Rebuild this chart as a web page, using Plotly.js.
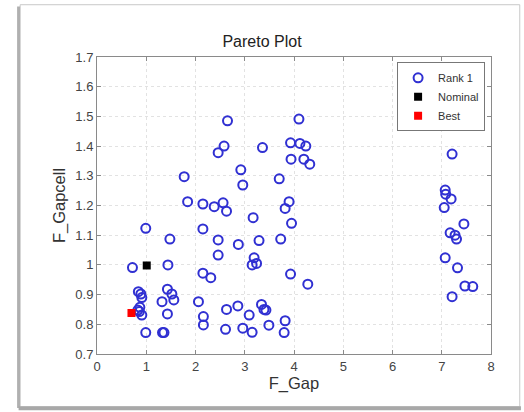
<!DOCTYPE html>
<html>
<head>
<meta charset="utf-8">
<script src="https://cdn.plot.ly/plotly-3.0.1.min.js"></script>
<style>html,body{margin:0;padding:0;background:#fff;}#chart{width:524px;height:412px;}</style>
</head>
<body>
<div id="chart"></div>
<script>
// Rank 1 solutions (F_Gap, F_Gapcell)
const rankGap = [
  2.65, 2.58, 2.46, 1.77, 1.84, 2.15, 2.38, 2.56, 2.63,
  0.99, 2.15, 1.48, 2.46, 2.46, 0.72, 1.44, 2.15, 2.31,
  0.84, 0.89, 0.91, 1.43, 1.52, 1.56, 1.32, 2.06, 2.63,
  0.87, 0.83, 0.86, 0.91, 1.43, 2.16, 2.16, 0.99, 1.33, 1.36, 2.61,
  4.10, 3.36, 3.93, 4.12, 4.24, 3.94, 4.20, 4.32, 2.92, 2.96, 3.70, 3.90, 3.82,
  3.17, 3.95, 2.87, 3.29, 3.73, 3.19, 3.15, 3.24, 3.93, 4.28,
  2.86, 3.09, 3.34, 3.39, 3.43, 3.82, 2.96, 3.15, 3.49, 3.80,
  7.21, 7.07, 7.08, 7.19, 7.05, 7.45, 7.17, 7.27, 7.30, 7.07, 7.32, 7.47, 7.63, 7.21
];
const rankGapcell = [
  1.485, 1.400, 1.378, 1.297, 1.213, 1.205, 1.196, 1.209, 1.181,
  1.123, 1.121, 1.087, 1.084, 1.033, 0.991, 1.000, 0.972, 0.957,
  0.910, 0.902, 0.890, 0.918, 0.902, 0.882, 0.876, 0.876, 0.850,
  0.857, 0.848, 0.843, 0.831, 0.835, 0.826, 0.798, 0.772, 0.772, 0.772, 0.783,
  1.491, 1.395, 1.411, 1.409, 1.400, 1.356, 1.356, 1.339, 1.320, 1.269, 1.290, 1.213, 1.190,
  1.159, 1.140, 1.069, 1.082, 1.087, 1.024, 1.000, 1.005, 0.969, 0.935,
  0.862, 0.831, 0.867, 0.850, 0.848, 0.812, 0.787, 0.773, 0.797, 0.772,
  1.373, 1.252, 1.238, 1.222, 1.193, 1.138, 1.108, 1.100, 1.087, 1.024, 0.990, 0.929, 0.927, 0.893
];
const nominalGap = [1.01];
const nominalGapcell = [0.998];
const bestGap = [0.70];
const bestGapcell = [0.838];

const xTicks = [0, 1, 2, 3, 4, 5, 6, 7, 8];
const yTicks = [0.7, 0.8, 0.9, 1, 1.1, 1.2, 1.3, 1.4, 1.5, 1.6, 1.7];

const font = "Liberation Sans, Arial, sans-serif";

const traces = [
  {x: rankGap, y: rankGapcell, type: 'scatter', mode: 'markers', name: 'Rank 1',
   marker: {symbol: 'circle-open', size: 9, color: 'rgb(48,48,210)', line: {width: 2, color: 'rgb(48,48,210)'}}},
  {x: nominalGap, y: nominalGapcell, type: 'scatter', mode: 'markers', name: 'Nominal',
   marker: {symbol: 'square', size: 8, color: '#000'}},
  {x: bestGap, y: bestGapcell, type: 'scatter', mode: 'markers', name: 'Best',
   marker: {symbol: 'square', size: 8, color: '#f00'}}
];

const axisCommon = {
  showline: true, linecolor: '#8a8a8a', linewidth: 1, mirror: 'allticks',
  ticks: 'inside', ticklen: 4, tickcolor: '#8a8a8a',
  showgrid: true, gridcolor: '#e2e2e2', griddash: 'dot', gridwidth: 1,
  zeroline: false, tickfont: {family: font, size: 13, color: '#444'}
};

const layout = {
  width: 524, height: 412,
  margin: {l: 97, r: 33, t: 57, b: 58},
  paper_bgcolor: '#fff', plot_bgcolor: '#fff',
  title: {text: 'Pareto Plot', font: {family: font, size: 16, color: '#222'}, x: 0.5, xanchor: 'center', y: 0.9, yanchor: 'middle', yref: 'container'},
  xaxis: Object.assign({}, axisCommon, {range: [0, 8], tickvals: xTicks, ticktext: xTicks.map(String),
    title: {text: 'F_Gap', font: {family: font, size: 16.5, color: '#333'}, standoff: 3}}),
  yaxis: Object.assign({}, axisCommon, {range: [0.7, 1.7], tickvals: yTicks, ticktext: yTicks.map(String),
    title: {text: 'F_Gapcell', font: {family: font, size: 16.5, color: '#333'}, standoff: 5}}),
  showlegend: true,
  legend: {x: 0.985, xanchor: 'right', y: 0.982, yanchor: 'top', bgcolor: '#fff', bordercolor: '#777', borderwidth: 1,
    font: {family: font, size: 11, color: '#333'}, itemwidth: 20, tracegroupgap: 0},
  shapes: [
    {type: 'rect', xref: 'paper', yref: 'paper', x0: -0.195, x1: 1.073, y0: -0.178, y1: 1.176,
     line: {color: '#c8c8c8', width: 1}, fillcolor: 'rgba(0,0,0,0)', layer: 'below'},
    {type: 'line', xref: 'paper', yref: 'paper', x0: -0.199, x1: -0.199, y0: -0.182, y1: 1.17,
     line: {color: '#b0b0b0', width: 3}},
    {type: 'line', xref: 'paper', yref: 'paper', x0: -0.199, x1: 1.076, y0: -0.183, y1: -0.183,
     line: {color: '#a8a8a8', width: 4}}
  ]
};

Plotly.newPlot('chart', traces, layout, {displayModeBar: false, staticPlot: true});
</script>
</body>
</html>
